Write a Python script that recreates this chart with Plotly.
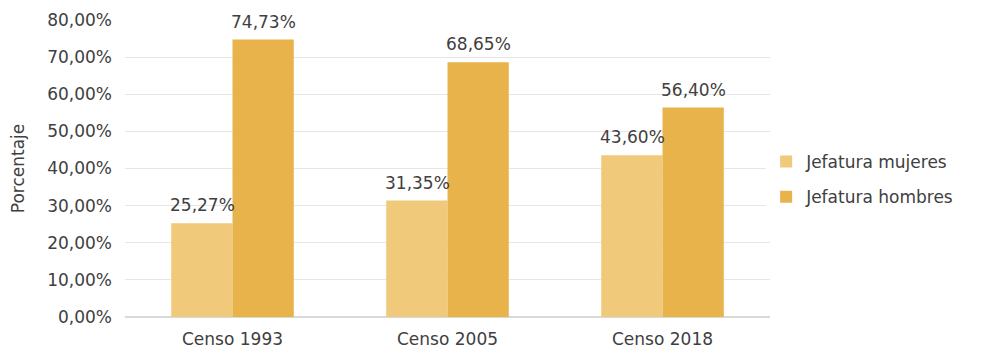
import plotly.graph_objects as go

categories = ["Censo 1993", "Censo 2005", "Censo 2018"]
mujeres = [25.27, 31.35, 43.60]
hombres = [74.73, 68.65, 56.40]
series_names = ["Jefatura mujeres", "Jefatura hombres"]

FONT = "DejaVu Sans"
TXT = "#404040"
SIZE = 17
fig = go.Figure()
fig.add_trace(go.Bar(
    x=categories, y=mujeres, name=series_names[0], legendgroup="m",
    marker=dict(color="#F0C97B", line=dict(width=0)),
))
fig.add_trace(go.Bar(
    x=categories, y=hombres, name=series_names[1], legendgroup="h",
    marker=dict(color="#E8B34B", line=dict(width=0)),
))

# data labels centred above each bar
for vals, shift in ((mujeres, -30.5), (hombres, 30.5)):
    for c, v in zip(categories, vals):
        fig.add_annotation(
            x=c, y=v, xshift=shift, yshift=6, yanchor="bottom",
            text=f"{v:.2f}%".replace(".", ","), showarrow=False,
            font=dict(family=FONT, size=SIZE, color=TXT),
        )

fig.update_layout(
    width=966, height=350,
    margin=dict(l=117, r=204, t=12, b=41),
    paper_bgcolor="white", plot_bgcolor="white",
    separators=",.",
    barmode="group", bargap=0.43, bargroupgap=0,
    font=dict(family=FONT, size=SIZE, color=TXT),
    legend=dict(x=0.994, y=0.463, xanchor="left", yanchor="middle",
                font=dict(family=FONT, size=SIZE, color=TXT),
                itemwidth=30, tracegroupgap=10),
)
fig.update_yaxes(
    range=[0, 80], dtick=10, tickformat=".2f", ticksuffix="%",
    showgrid=True, gridcolor="#E6E6E6", gridwidth=1,
    zeroline=True, zerolinecolor="#D9D9D9", showline=False,
    ticks="", ticklabelstandoff=12, tickfont=dict(size=SIZE, color=TXT),
    automargin=False,
    title=dict(text="Porcentaje", font=dict(family=FONT, size=SIZE, color=TXT), standoff=18),
)
fig.update_xaxes(showline=False, ticks="", ticklabelstandoff=10,
                 tickfont=dict(size=SIZE, color=TXT), automargin=False)
fig.write_html("out.html")
